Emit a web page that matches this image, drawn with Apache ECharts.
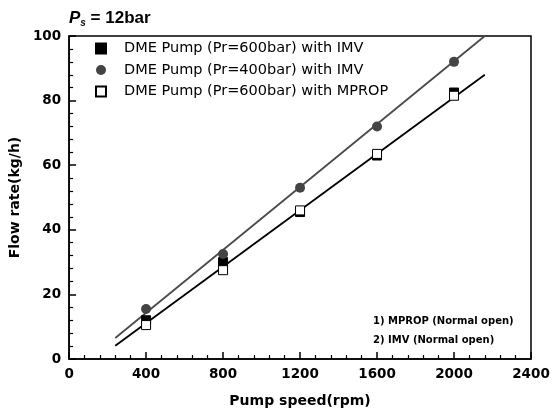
<!DOCTYPE html>
<html>
<head>
<meta charset="utf-8">
<script src="https://cdn.jsdelivr.net/npm/echarts@6/dist/echarts.min.js"></script>
<style>html,body{margin:0;padding:0;background:#fff;}#c{width:560px;height:414px;}</style>
</head>
<body>
<div id="c"></div>
<script>
var speeds = [400, 800, 1200, 1600, 2000];
var imv600 = [12, 30, 45.5, 63, 82.5];
var imv400 = [15.5, 32.5, 53, 72, 92];
var mprop600 = [10.5, 27.5, 46, 63.5, 81.5];
var fitX = [240, 2160];
var fit600 = [4.1, 88];
var fit400 = [6.5, 100];
var xTicks = [0, 400, 800, 1200, 1600, 2000, 2400];
var yTicks = [0, 20, 40, 60, 80, 100];
var names = ['DME Pump (Pr=600bar) with IMV', 'DME Pump (Pr=400bar) with IMV', 'DME Pump (Pr=600bar) with MPROP'];
var notes = ['1) MPROP (Normal open)', '2) IMV (Normal open)'];

function pairs(xs, ys){ return xs.map(function(x,i){return [x, ys[i]];}); }

var chart = echarts.init(document.getElementById('c'), null, {renderer:'canvas'});
var FONT = 'DejaVu Sans';
chart.setOption({
  animation: false,
  backgroundColor: '#fff',
  title: {
    left: 64, top: 3,
    text: '{p|P}{s|s}{t| = 12bar}',
    textStyle: {
      rich: {
        p: {fontFamily: 'Liberation Sans', fontWeight:'bold', fontStyle:'italic', fontSize:17, color:'#000'},
        s: {fontFamily: 'Liberation Sans', fontWeight:'bold', fontStyle:'italic', fontSize:10, color:'#000', padding:[10,0,0,0]},
        t: {fontFamily: 'Liberation Sans', fontWeight:'bold', fontSize:17, color:'#000'}
      }
    }
  },
  grid: {left: 66, right: 29, top: 36, bottom: 55, show: true, borderColor: '#000', borderWidth: 1.5, backgroundColor: 'transparent'},
  legend: {
    orient: 'vertical', left: 95, top: 41, padding: 0, itemGap: 6.5, itemWidth: 10, itemHeight: 10,
    data: [
      {name: names[0], icon: 'rect'},
      {name: names[1], icon: 'circle'},
      {name: names[2], icon: 'rect'}
    ],
    textStyle: {fontFamily: FONT, fontSize: 14.5, color: '#000', padding: [0,0,0,13]}
  },
  graphic: [
    {type:'text', left: 373, top: 316, style:{text: notes[0], font:'bold 10px "DejaVu Sans"', fill:'#000'}},
    {type:'text', left: 373, top: 335, style:{text: notes[1], font:'bold 10px "DejaVu Sans"', fill:'#000'}}
  ],
  xAxis: {
    type: 'value', min: 0, max: 2400, interval: 400,
    name: 'Pump speed(rpm)', nameLocation: 'middle', nameGap: 35,
    nameTextStyle: {fontFamily: FONT, fontWeight:'bold', fontSize: 14, color:'#000'},
    axisLine: {show: true, lineStyle:{color:'#000', width:1.5}},
    axisTick: {show: true, inside: true, length: 7, lineStyle:{color:'#000', width:1.5}},
    minorTick: {show: true, splitNumber: 5, length: 4, lineStyle:{color:'#000', width:1.2}},
    splitLine: {show: false},
    axisLabel: {fontFamily: FONT, fontWeight:'bold', fontSize: 13.5, color:'#000', margin: 8,
      formatter: function(v){ return xTicks.indexOf(v) >= 0 ? String(v) : ''; }}
  },
  yAxis: {
    type: 'value', min: 0, max: 100, interval: 20,
    name: 'Flow rate(kg/h)', nameLocation: 'middle', nameGap: 38,
    nameTextStyle: {fontFamily: FONT, fontWeight:'bold', fontSize: 14, color:'#000'},
    axisLine: {show: true, lineStyle:{color:'#000', width:1.5}},
    axisTick: {show: true, inside: true, length: 7, lineStyle:{color:'#000', width:1.5}},
    minorTick: {show: true, splitNumber: 5, length: 4, lineStyle:{color:'#000', width:1.2}},
    splitLine: {show: false},
    axisLabel: {fontFamily: FONT, fontWeight:'bold', fontSize: 13.5, color:'#000', margin: 8,
      formatter: function(v){ return yTicks.indexOf(v) >= 0 ? String(v) : ''; }}
  },
  series: [
    {type:'line', name:'fit400', data: pairs(fitX, fit400), symbol:'none', lineStyle:{color:'#4a4a4a', width:1.8}, silent:true, z:1},
    {type:'line', name:'fit600', data: pairs(fitX, fit600), symbol:'none', lineStyle:{color:'#000', width:1.8}, silent:true, z:1},
    {type:'scatter', name: names[0], data: pairs(speeds, imv600), symbol:'rect', symbolSize: 9,
      itemStyle:{color:'#000', borderColor:'#000', borderWidth:1, opacity:1}, z:3},
    {type:'scatter', name: names[1], data: pairs(speeds, imv400), symbol:'circle', symbolSize: 10,
      itemStyle:{color:'#444', borderColor:'#444', borderWidth:0, opacity:1}, z:3},
    {type:'scatter', name: names[2], data: pairs(speeds, mprop600), symbol:'rect', symbolSize: 9,
      itemStyle:{color:'#fff', borderColor:'#000', borderWidth:1, opacity:1}, z:4}
  ]
});
</script>
</body>
</html>
